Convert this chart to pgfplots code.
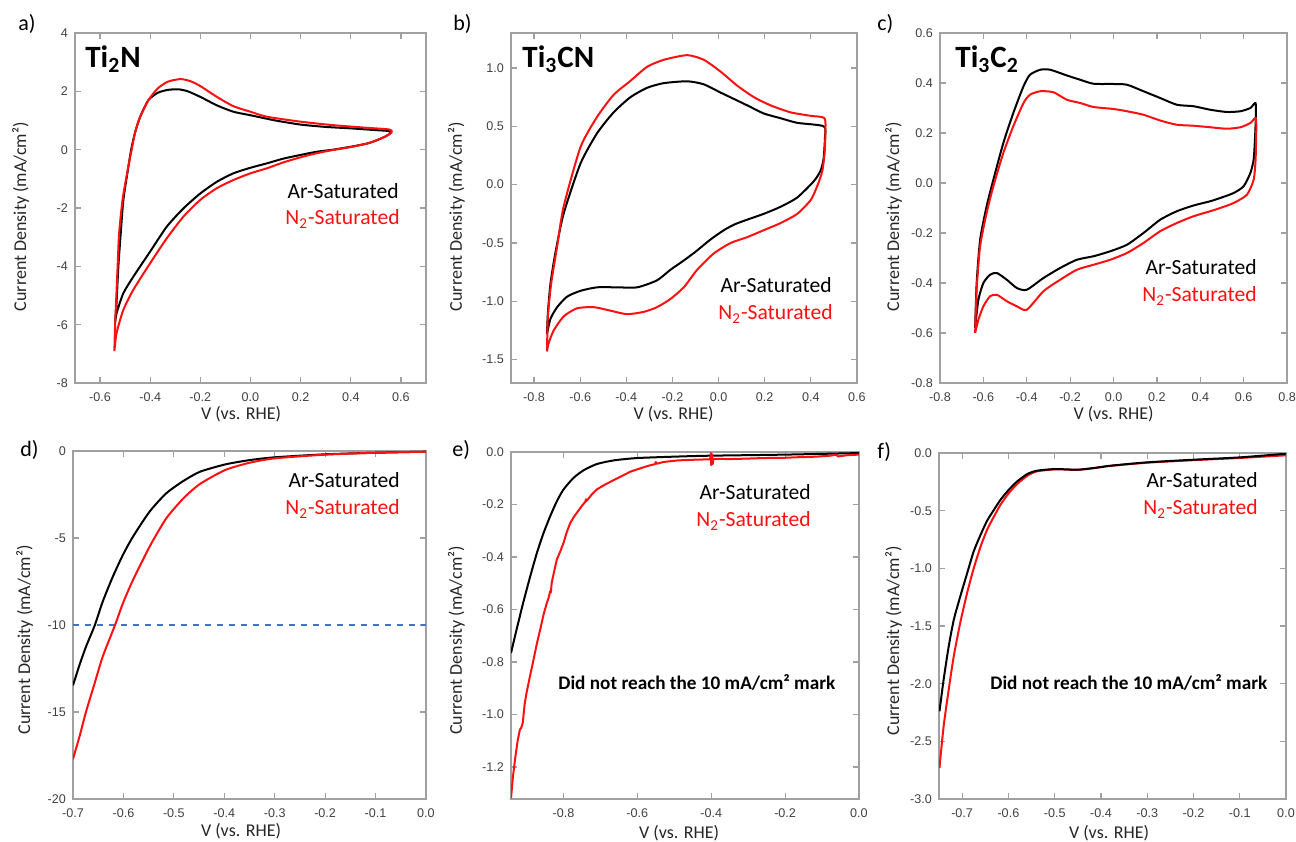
\documentclass[border=0pt]{standalone}
\usepackage{fontspec}
\setmainfont{Carlito}
\newfontfamily\arialfont{Liberation Sans}
\usepackage{pgfplots}
\pgfplotsset{compat=1.18}
\definecolor{framegray}{HTML}{A0A0A0}
\definecolor{ticktext}{HTML}{404040}
\definecolor{nred}{HTML}{FF1010}
\definecolor{refblue}{HTML}{4472C4}

\pgfplotsset{
  panel/.style={
    scale only axis,
    anchor=south west,
    axis line style={framegray, line width=0.7pt},
    tick align=inside,
    major tick length=2.8pt,
    major tick style={framegray, line width=0.6pt},
    tick label style={font=\arialfont\fontsize{6.3}{7}\selectfont, text=ticktext},
    xticklabel style={yshift=-1.2pt},
    /pgf/number format/assume math mode=true,
    label style={font=\fontsize{9}{10}\selectfont, text=black!85},
    xlabel={V (vs. RHE)},
    ylabel={Current Density (mA/cm²)},
  },
  onedec/.style={/pgf/number format/.cd, fixed, fixed zerofill, precision=1},
}
\tikzset{
  ar/.style={black, line width=1pt, line join=round},
  nt/.style={nred, line width=1pt, line join=round},
  lbl/.style={font=\fontsize{10.8}{12}\selectfont, inner sep=0pt},
  pan/.style={font=\fontsize{11}{12}\selectfont, anchor=west, inner sep=0pt},
  ttl/.style={font=\fontsize{15.5}{17}\selectfont\bfseries, anchor=base west, inner sep=0pt},
  note/.style={font=\fontsize{9.6}{11}\selectfont\bfseries, anchor=base west, inner sep=0pt},
}

\begin{document}
\begin{tikzpicture}
\useasboundingbox (0,0) rectangle (648pt,420.5pt);

% ---------- a) Ti2N CV ----------
\begin{axis}[panel, at={(37.5pt,229pt)}, width=175.5pt, height=175pt,
  xmin=-0.7, xmax=0.7, ymin=-8, ymax=4,
  xtick={-0.6,-0.4,-0.2,0,0.2,0.4,0.6}, ytick={-8,-6,-4,-2,0,2,4},
  xticklabel style={onedec},
  xlabel style={at={(axis description cs:0.473,-0.088)}, anchor=center},
  ylabel style={at={(axis description cs:-0.155,0.475)}, anchor=center}]
\addplot[ar, smooth, tension=0.4] coordinates {
 (-0.540,-5.94) (-0.534,-5.2) (-0.527,-4.0) (-0.517,-2.8) (-0.507,-1.72)
 (-0.490,-0.75) (-0.476,0.0) (-0.460,0.6) (-0.440,1.13) (-0.407,1.70)
 (-0.370,1.95) (-0.330,2.05) (-0.287,2.07) (-0.250,2.0) (-0.200,1.81)
 (-0.134,1.52) (-0.068,1.30) (0.0,1.18) (0.1,1.0) (0.2,0.86) (0.3,0.78)
 (0.4,0.73) (0.5,0.67) (0.550,0.64) (0.560,0.58) (0.540,0.46) (0.50,0.31)
 (0.465,0.21) (0.4,0.10) (0.33,0.0) (0.265,-0.07) (0.2,-0.18) (0.13,-0.31)
 (0.065,-0.47) (0.0,-0.62) (-0.068,-0.81) (-0.134,-1.10) (-0.2,-1.50)
 (-0.267,-2.01) (-0.334,-2.64) (-0.4,-3.49) (-0.467,-4.35) (-0.507,-4.92)
 (-0.534,-5.6) (-0.540,-5.94)};
\addplot[nt, smooth, tension=0.4] coordinates {
 (-0.543,-6.91) (-0.540,-6.0) (-0.535,-5.0) (-0.530,-4.0) (-0.524,-2.86)
 (-0.510,-1.7) (-0.490,-0.7) (-0.474,0.0) (-0.460,0.6) (-0.440,1.13)
 (-0.407,1.70) (-0.370,2.10) (-0.330,2.33) (-0.280,2.42) (-0.240,2.35)
 (-0.200,2.18) (-0.134,1.81) (-0.068,1.49) (0.0,1.30) (0.065,1.13)
 (0.2,0.96) (0.33,0.84) (0.465,0.75) (0.555,0.69) (0.563,0.60) (0.540,0.46)
 (0.50,0.31) (0.465,0.21) (0.4,0.09) (0.33,-0.01) (0.265,-0.12) (0.2,-0.26)
 (0.13,-0.44) (0.065,-0.64) (0.0,-0.81) (-0.068,-1.04) (-0.134,-1.32)
 (-0.2,-1.72) (-0.267,-2.29) (-0.334,-3.04) (-0.4,-3.89) (-0.467,-4.80)
 (-0.507,-5.49) (-0.534,-6.28) (-0.543,-6.91)};
\end{axis}

% ---------- b) Ti3CN CV ----------
\begin{axis}[panel, at={(255.5pt,229pt)}, width=173pt, height=175pt,
  xmin=-0.9, xmax=0.6, ymin=-1.7, ymax=1.3,
  xtick={-0.8,-0.6,-0.4,-0.2,0,0.2,0.4,0.6}, ytick={-1.5,-1,-0.5,0,0.5,1},
  xticklabel style={onedec}, yticklabel style={onedec},
  xlabel style={at={(axis description cs:0.47,-0.088)}, anchor=center},
  ylabel style={at={(axis description cs:-0.158,0.475)}, anchor=center}]
\addplot[ar, smooth, tension=0.4] coordinates {
 (-0.744,-1.28) (-0.740,-1.10) (-0.729,-0.85) (-0.708,-0.59) (-0.672,-0.25)
 (-0.599,0.18) (-0.527,0.44) (-0.455,0.62) (-0.382,0.75) (-0.310,0.83)
 (-0.238,0.87) (-0.136,0.886) (-0.064,0.86) (0.008,0.79) (0.124,0.68)
 (0.196,0.61) (0.268,0.57) (0.341,0.53) (0.456,0.50) (0.461,0.40)
 (0.455,0.22) (0.442,0.12) (0.413,0.03) (0.341,-0.11) (0.268,-0.19)
 (0.196,-0.25) (0.124,-0.30) (0.070,-0.34) (0.023,-0.39) (-0.035,-0.47)
 (-0.100,-0.575) (-0.151,-0.65) (-0.209,-0.73) (-0.267,-0.82) (-0.353,-0.88)
 (-0.440,-0.88) (-0.527,-0.88) (-0.599,-0.91) (-0.657,-0.96) (-0.700,-1.05)
 (-0.729,-1.15) (-0.744,-1.28)};
\addplot[nt, smooth, tension=0.4] coordinates {
 (-0.744,-1.43) (-0.740,-1.13) (-0.726,-0.85) (-0.700,-0.53) (-0.672,-0.19)
 (-0.599,0.32) (-0.527,0.58) (-0.455,0.77) (-0.382,0.89) (-0.310,1.01)
 (-0.238,1.07) (-0.136,1.11) (-0.064,1.07) (0.008,0.97) (0.080,0.85)
 (0.153,0.75) (0.225,0.68) (0.312,0.62) (0.399,0.59) (0.459,0.57)
 (0.463,0.45) (0.460,0.28) (0.450,0.12) (0.430,0.0) (0.400,-0.13)
 (0.341,-0.25) (0.268,-0.33) (0.196,-0.39) (0.124,-0.45) (0.052,-0.50)
 (-0.021,-0.59) (-0.093,-0.73) (-0.151,-0.88) (-0.209,-0.98) (-0.267,-1.05)
 (-0.324,-1.09) (-0.397,-1.11) (-0.469,-1.08) (-0.541,-1.05) (-0.614,-1.06)
 (-0.672,-1.13) (-0.715,-1.25) (-0.737,-1.36) (-0.744,-1.43)};
\end{axis}

% ---------- c) Ti3C2 CV ----------
\begin{axis}[panel, at={(470pt,229pt)}, width=173.5pt, height=175pt,
  xmin=-0.8, xmax=0.8, ymin=-0.8, ymax=0.6,
  xtick={-0.8,-0.6,-0.4,-0.2,0,0.2,0.4,0.6,0.8},
  ytick={-0.8,-0.6,-0.4,-0.2,0,0.2,0.4,0.6},
  xticklabel style={onedec}, yticklabel style={onedec},
  xlabel style={at={(axis description cs:0.5,-0.088)}, anchor=center},
  ylabel style={at={(axis description cs:-0.134,0.475)}, anchor=center}]
\addplot[ar, smooth, tension=0.4] coordinates {
 (-0.638,-0.58) (-0.631,-0.40) (-0.615,-0.227) (-0.585,-0.093) (-0.554,0.013)
 (-0.508,0.16) (-0.462,0.28) (-0.415,0.387) (-0.385,0.433) (-0.338,0.453)
 (-0.292,0.453) (-0.215,0.43) (-0.154,0.413) (-0.092,0.397) (0.0,0.396)
 (0.062,0.393) (0.138,0.367) (0.215,0.34) (0.292,0.313) (0.369,0.307)
 (0.446,0.293) (0.523,0.284) (0.585,0.287) (0.631,0.30) (0.655,0.32)
 (0.656,0.26) (0.652,0.173) (0.646,0.093) (0.631,0.04) (0.600,-0.013)
 (0.554,-0.04) (0.492,-0.06) (0.446,-0.073) (0.369,-0.09) (0.292,-0.113)
 (0.215,-0.147) (0.138,-0.20) (0.062,-0.247) (-0.015,-0.273) (-0.092,-0.293)
 (-0.169,-0.307) (-0.246,-0.34) (-0.323,-0.38) (-0.400,-0.427) (-0.446,-0.42)
 (-0.492,-0.387) (-0.538,-0.36) (-0.569,-0.367) (-0.600,-0.40) (-0.623,-0.467)
 (-0.638,-0.58)};
\addplot[nt, smooth, tension=0.4] coordinates {
 (-0.638,-0.60) (-0.631,-0.427) (-0.615,-0.253) (-0.585,-0.12) (-0.554,-0.013)
 (-0.508,0.12) (-0.462,0.227) (-0.415,0.32) (-0.385,0.353) (-0.338,0.367)
 (-0.277,0.363) (-0.215,0.333) (-0.154,0.32) (-0.092,0.304) (0.0,0.296)
 (0.062,0.287) (0.138,0.273) (0.215,0.25) (0.292,0.233) (0.369,0.229)
 (0.446,0.223) (0.523,0.217) (0.585,0.223) (0.631,0.24) (0.656,0.26)
 (0.658,0.2) (0.655,0.093) (0.646,0.013) (0.615,-0.047) (0.554,-0.08)
 (0.492,-0.10) (0.446,-0.113) (0.369,-0.133) (0.292,-0.16) (0.215,-0.193)
 (0.138,-0.24) (0.062,-0.28) (-0.015,-0.307) (-0.092,-0.327) (-0.169,-0.347)
 (-0.246,-0.387) (-0.323,-0.433) (-0.400,-0.507) (-0.446,-0.493)
 (-0.492,-0.473) (-0.538,-0.447) (-0.569,-0.453) (-0.600,-0.493)
 (-0.623,-0.547) (-0.638,-0.60)};
\end{axis}

% ---------- d) Ti2N LSV ----------
\begin{axis}[panel, at={(36.5pt,21pt)}, width=176.5pt, height=174pt,
  xmin=-0.7, xmax=0, ymin=-20, ymax=0,
  xtick={-0.7,-0.6,-0.5,-0.4,-0.3,-0.2,-0.1,0}, ytick={-20,-15,-10,-5,0},
  xticklabel style={onedec},
  xlabel style={at={(axis description cs:0.476,-0.093)}, anchor=center},
  ylabel style={at={(axis description cs:-0.137,0.457)}, anchor=center}]
\addplot[refblue, dashed, line width=0.6pt] coordinates {(-0.7,-10) (0,-10)};
\addplot[ar, smooth, tension=0.4] coordinates {
 (-0.700,-13.47) (-0.687,-12.29) (-0.674,-11.23) (-0.657,-10.03)
 (-0.641,-8.65) (-0.621,-7.22) (-0.601,-5.97) (-0.581,-4.92) (-0.548,-3.48)
 (-0.515,-2.43) (-0.481,-1.72) (-0.448,-1.19) (-0.398,-0.77) (-0.349,-0.52)
 (-0.299,-0.36) (-0.200,-0.19) (-0.100,-0.10) (0,-0.04)};
\addplot[nt, smooth, tension=0.4] coordinates {
 (-0.700,-17.7) (-0.687,-16.4) (-0.674,-14.97) (-0.657,-13.34) (-0.641,-11.81)
 (-0.617,-10.03) (-0.601,-8.75) (-0.581,-7.41) (-0.548,-5.49) (-0.515,-3.87)
 (-0.481,-2.72) (-0.448,-1.89) (-0.398,-1.09) (-0.349,-0.67) (-0.299,-0.42)
 (-0.200,-0.21) (-0.100,-0.10) (0,-0.04)};
\end{axis}

% ---------- e) Ti3CN LSV ----------
\begin{axis}[panel, at={(255.5pt,21pt)}, width=174pt, height=173.5pt,
  xmin=-0.942, xmax=0, ymin=-1.322, ymax=0,
  xtick={-0.8,-0.6,-0.4,-0.2,0}, ytick={-1.2,-1,-0.8,-0.6,-0.4,-0.2,0},
  xticklabel style={onedec}, yticklabel style={onedec},
  xlabel style={at={(axis description cs:0.483,-0.099)}, anchor=center},
  ylabel style={at={(axis description cs:-0.157,0.457)}, anchor=center}]
\addplot[ar, smooth, tension=0.4] coordinates {
 (-0.942,-0.766) (-0.927,-0.677) (-0.908,-0.569) (-0.890,-0.474)
 (-0.872,-0.385) (-0.854,-0.309) (-0.836,-0.245) (-0.818,-0.188)
 (-0.800,-0.143) (-0.773,-0.099) (-0.746,-0.070) (-0.710,-0.046)
 (-0.664,-0.032) (-0.600,-0.023) (-0.484,-0.017) (-0.400,-0.014)
 (-0.200,-0.010) (0,-0.004)};
\addplot[nt] coordinates {
 (-0.942,-1.32) (-0.937,-1.24) (-0.931,-1.17) (-0.924,-1.10) (-0.918,-1.058)
 (-0.914,-1.05) (-0.910,-1.03) (-0.905,-0.96) (-0.900,-0.918) (-0.890,-0.85)
 (-0.881,-0.791) (-0.872,-0.73) (-0.863,-0.677) (-0.854,-0.62) (-0.845,-0.575)
 (-0.840,-0.555) (-0.836,-0.53) (-0.834,-0.535) (-0.832,-0.50) (-0.826,-0.46)
 (-0.818,-0.41) (-0.809,-0.38) (-0.800,-0.347) (-0.791,-0.305) (-0.782,-0.272)
 (-0.778,-0.262) (-0.773,-0.250) (-0.764,-0.232) (-0.750,-0.205)
 (-0.741,-0.190) (-0.739,-0.180) (-0.737,-0.186) (-0.724,-0.163)
 (-0.710,-0.143) (-0.690,-0.126) (-0.664,-0.107) (-0.640,-0.090)
 (-0.619,-0.075) (-0.600,-0.066) (-0.574,-0.054) (-0.552,-0.046)
 (-0.550,-0.038) (-0.548,-0.045) (-0.529,-0.038) (-0.490,-0.032)
 (-0.438,-0.029) (-0.403,-0.028) (-0.401,-0.004) (-0.400,-0.050)
 (-0.398,-0.008) (-0.396,-0.046) (-0.394,-0.026) (-0.348,-0.027)
 (-0.300,-0.025) (-0.258,-0.023) (-0.200,-0.022) (-0.167,-0.020)
 (-0.120,-0.018) (-0.077,-0.014) (-0.060,-0.010) (-0.058,-0.017)
 (-0.030,-0.012) (0,-0.010)};
\end{axis}

% ---------- f) Ti3C2 LSV ----------
\begin{axis}[panel, at={(469.5pt,21pt)}, width=173.5pt, height=173pt,
  xmin=-0.75, xmax=0, ymin=-3, ymax=0,
  xtick={-0.7,-0.6,-0.5,-0.4,-0.3,-0.2,-0.1,0},
  ytick={-3,-2.5,-2,-1.5,-1,-0.5,0},
  xticklabel style={onedec}, yticklabel style={onedec},
  xlabel style={at={(axis description cs:0.49,-0.099)}, anchor=center},
  ylabel style={at={(axis description cs:-0.131,0.457)}, anchor=center}]
\addplot[nt, smooth, tension=0.4] coordinates {
 (-0.749,-2.73) (-0.740,-2.37) (-0.729,-2.05) (-0.718,-1.76) (-0.704,-1.47)
 (-0.689,-1.21) (-0.675,-1.00) (-0.660,-0.81) (-0.646,-0.665) (-0.631,-0.549)
 (-0.617,-0.448) (-0.599,-0.347) (-0.581,-0.269) (-0.559,-0.197)
 (-0.538,-0.159) (-0.498,-0.142) (-0.451,-0.146) (-0.415,-0.131)
 (-0.379,-0.112) (-0.300,-0.084) (-0.199,-0.062) (-0.100,-0.043) (0,-0.02)};
\addplot[ar, smooth, tension=0.4] coordinates {
 (-0.749,-2.24) (-0.740,-1.965) (-0.729,-1.676) (-0.718,-1.445) (-0.704,-1.243)
 (-0.689,-1.04) (-0.675,-0.853) (-0.660,-0.708) (-0.646,-0.587) (-0.631,-0.491)
 (-0.617,-0.405) (-0.599,-0.318) (-0.581,-0.246) (-0.559,-0.182)
 (-0.538,-0.153) (-0.498,-0.139) (-0.451,-0.145) (-0.415,-0.130)
 (-0.379,-0.110) (-0.300,-0.081) (-0.199,-0.058) (-0.100,-0.038) (0,-0.006)};
\end{axis}

% ---------- panel letters ----------
\node[pan] at (9pt,408.5pt) {a)};
\node[pan] at (226.5pt,408.5pt) {b)};
\node[pan] at (438.5pt,408.5pt) {c)};
\node[pan] at (10pt,195.5pt) {d)};
\node[pan] at (226pt,195.5pt) {e)};
\node[pan] at (438.5pt,194.5pt) {f)};

% ---------- material titles ----------
\node[ttl] at (42.5pt,386.5pt) {Ti\textsubscript{2}N};
\node[ttl] at (261pt,386.5pt) {Ti\textsubscript{3}CN};
\node[ttl] at (477.5pt,386.5pt) {Ti\textsubscript{3}C\textsubscript{2}};

% ---------- series labels ----------
\node[lbl, anchor=base east] at (199.5pt,321pt) {Ar-Saturated};
\node[lbl, anchor=base east, text=nred] at (200pt,308pt) {N\textsubscript{2}-Saturated};
\node[lbl, anchor=base east] at (416pt,274pt) {Ar-Saturated};
\node[lbl, anchor=base east, text=nred] at (416.5pt,260.5pt) {N\textsubscript{2}-Saturated};
\node[lbl, anchor=base east] at (628.5pt,283pt) {Ar-Saturated};
\node[lbl, anchor=base east, text=nred] at (628.5pt,269.5pt) {N\textsubscript{2}-Saturated};
\node[lbl, anchor=base east] at (200pt,176.5pt) {Ar-Saturated};
\node[lbl, anchor=base east, text=nred] at (200pt,163pt) {N\textsubscript{2}-Saturated};
\node[lbl, anchor=base east] at (405.5pt,170.5pt) {Ar-Saturated};
\node[lbl, anchor=base east, text=nred] at (405.5pt,157pt) {N\textsubscript{2}-Saturated};
\node[lbl, anchor=base east] at (629pt,176.5pt) {Ar-Saturated};
\node[lbl, anchor=base east, text=nred] at (629pt,163pt) {N\textsubscript{2}-Saturated};

% ---------- notes ----------
\node[note] at (279pt,75.5pt) {Did not reach the 10 mA/cm² mark};
\node[note] at (495pt,75.5pt) {Did not reach the 10 mA/cm² mark};
\end{tikzpicture}
\end{document}
